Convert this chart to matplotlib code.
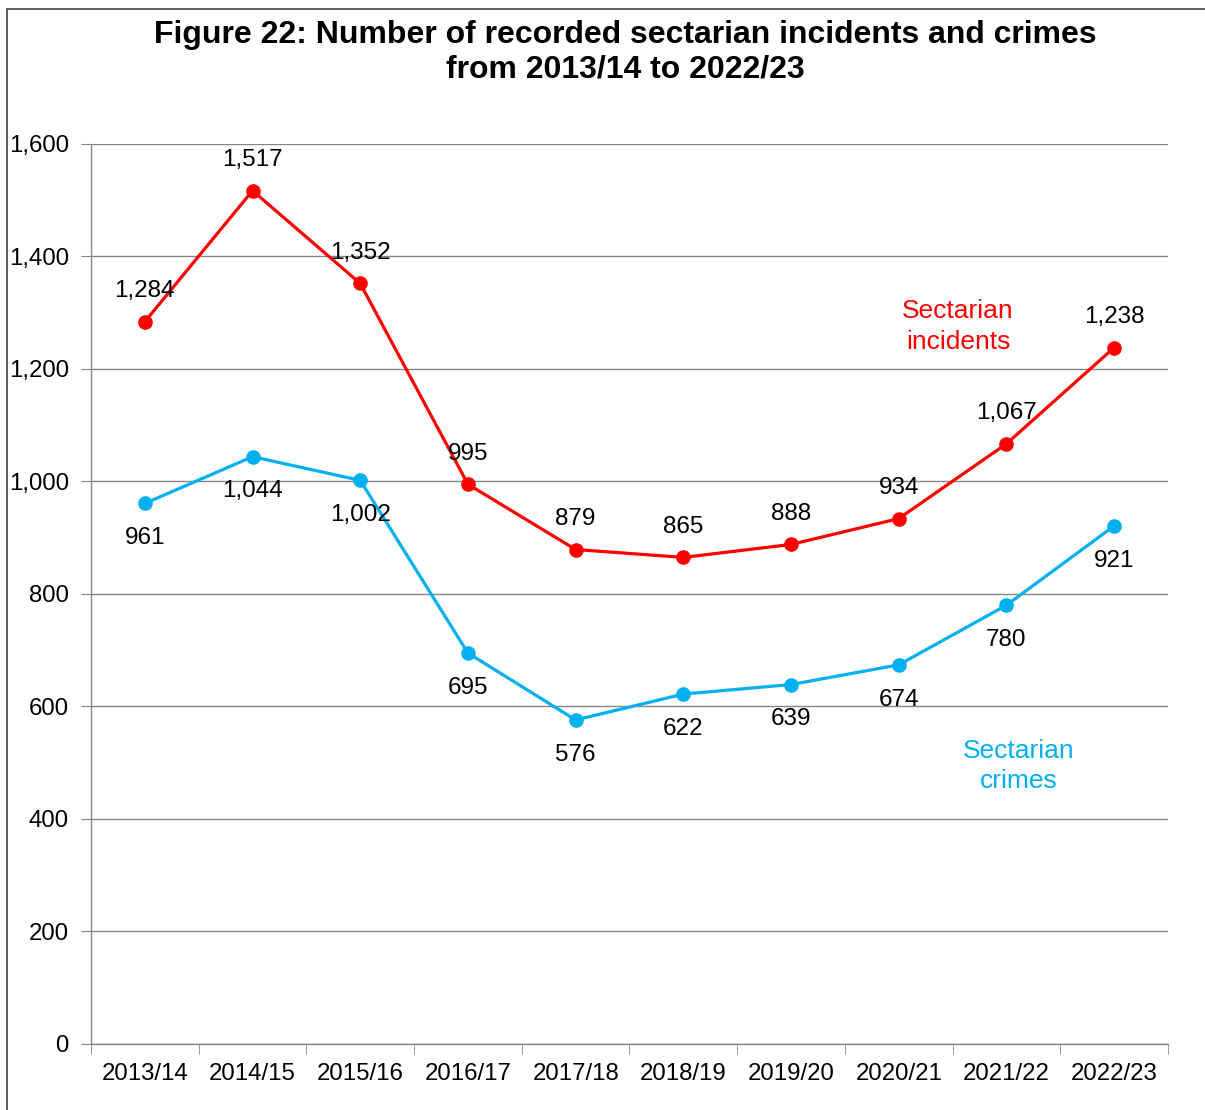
import matplotlib
matplotlib.use("Agg")
import matplotlib.pyplot as plt
import numpy as np
from matplotlib.patches import Rectangle

plt.rcParams['font.family'] = ['Liberation Sans', 'DejaVu Sans']

years = ['2013/14', '2014/15', '2015/16', '2016/17', '2017/18',
         '2018/19', '2019/20', '2020/21', '2021/22', '2022/23']
incidents = [1284, 1517, 1352, 995, 879, 865, 888, 934, 1067, 1238]
crimes = [961, 1044, 1002, 695, 576, 622, 639, 674, 780, 921]

red = '#FF0000'
blue = '#00B0F0'
grey = '#868686'

fig = plt.figure(figsize=(12.05, 11.1), dpi=100)
ax = fig.add_axes([0.0755, 0.0595, 0.8938, 0.8108])

x = np.arange(len(years))
ax.plot(x, incidents, color=red, lw=2.3, marker='o', ms=9.5, zorder=3)
ax.plot(x, crimes, color=blue, lw=2.3, marker='o', ms=9.5, zorder=3)

# data labels: incidents above, crimes below
for i in range(len(years)):
    ax.annotate(f'{incidents[i]:,}', (x[i], incidents[i]), xytext=(0, 22),
                textcoords='offset points', ha='center', va='center', fontsize=17.5)
    ax.annotate(f'{crimes[i]:,}', (x[i], crimes[i]), xytext=(0, -25),
                textcoords='offset points', ha='center', va='center', fontsize=17.5)

ax.text(7.55, 1276, 'Sectarian\nincidents', color=red, fontsize=19,
        ha='center', va='center', linespacing=1.35)
ax.text(8.11, 494, 'Sectarian\ncrimes', color=blue, fontsize=19,
        ha='center', va='center', linespacing=1.35)

ax.set_xlim(-0.5, len(years) - 0.5)
ax.set_ylim(0, 1600)
ax.set_yticks(np.arange(0, 1601, 200))
ax.yaxis.set_major_formatter(matplotlib.ticker.FuncFormatter(lambda v, p: f'{int(v):,}'))
ax.set_xticks(x)
ax.set_xticklabels(years)
ax.set_xticks(np.arange(-0.5, len(years)), minor=True)
ax.tick_params(axis='x', which='major', length=0, labelsize=17.3, pad=14)
ax.tick_params(axis='x', which='minor', length=7, color=grey, direction='out')
ax.tick_params(axis='y', length=7, color=grey, labelsize=17.3, pad=9)

ax.grid(axis='y', color=grey, lw=1)
ax.set_axisbelow(True)
for s in ['top', 'right']:
    ax.spines[s].set_visible(False)
for s in ['left', 'bottom']:
    ax.spines[s].set_color(grey)
    ax.spines[s].set_linewidth(1)

fig.text(0.519, 0.953, 'Figure 22: Number of recorded sectarian incidents and crimes\nfrom 2013/14 to 2022/23',
         ha='center', va='center', fontsize=23, fontweight='bold', linespacing=1.22)

# outer frame
fig.patches.append(Rectangle((7 / 1205, -0.05), 1.2, 1101 / 1110 + 0.05,
                             transform=fig.transFigure, fill=False,
                             edgecolor='#404040', lw=1.2))

fig.savefig('out.png', dpi=100)
